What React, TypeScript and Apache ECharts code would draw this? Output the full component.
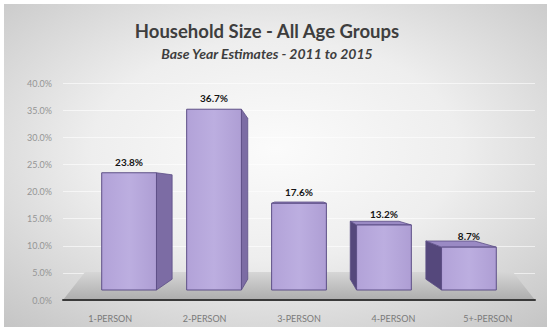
import React, { useEffect, useRef } from "react";
import * as echarts from "echarts";

const categories = ["1-PERSON", "2-PERSON", "3-PERSON", "4-PERSON", "5+-PERSON"];
const values = [23.8, 36.7, 17.6, 13.2, 8.7];
const yMin = 0;
const yMax = 40;
const yInterval = 5;
const titleText = "Household Size - All Age Groups";
const subtitleText = "Base Year Estimates - 2011 to 2015";

export default function App() {
  const ref = useRef<HTMLDivElement>(null);
  useEffect(() => {
    if (!ref.current) return;
    const chart = echarts.init(ref.current, undefined, { renderer: "svg" });

    const renderFloor = (params: any, api: any) => {
      const cs = params.coordSys;
      const baseY = api.coord([0, 0])[1];
      return {
        type: "polygon",
        shape: {
          points: [
            [cs.x, baseY],
            [cs.x + cs.width, baseY],
            [cs.x + cs.width - 22, baseY - 28],
            [cs.x + 22, baseY - 28],
          ],
        },
        style: {
          fill: new echarts.graphic.LinearGradient(0, 0, 0, 1, [
            { offset: 0, color: "#d6d6d6" },
            { offset: 1, color: "#adadad" },
          ]),
        },
        silent: true,
      };
    };

    const renderBar = (params: any, api: any) => {
      const i = api.value(0);
      const v = api.value(1);
      const cs = params.coordSys;
      const C = cs.x + cs.width / 2;
      const p0 = api.coord([i, 0]);
      const cx = p0[0];
      const baseY = p0[1];
      const vy = api.coord([i, 20])[1];
      const band = api.size([1, 0])[0];
      const fx = C + (cx - C) * 0.9;
      const hw = band * 0.29;
      const fb = baseY - 10;
      const h = api.size([0, v])[1] * 0.908;
      const ft = fb - h;
      const s = 0.89;
      const bx = (x: number) => C + (x - C) * s;
      const by = (y: number) => vy + (y - vy) * s;
      const L = fx - hw;
      const R = fx + hw;
      const stroke = "#5d4f86";
      const children: any[] = [];
      if (R < C - 1) {
        children.push({
          type: "polygon",
          shape: { points: [[R, ft], [bx(R), by(ft)], [bx(R), by(fb)], [R, fb]] },
          style: { fill: "#7c6ca4", stroke, lineWidth: 0.8 },
        });
      }
      if (L > C + 1) {
        children.push({
          type: "polygon",
          shape: { points: [[L, ft], [bx(L), by(ft)], [bx(L), by(fb)], [L, fb]] },
          style: { fill: "#55487c", stroke, lineWidth: 0.8 },
        });
      }
      if (ft > vy) {
        children.push({
          type: "polygon",
          shape: { points: [[L, ft], [bx(L), by(ft)], [bx(R), by(ft)], [R, ft]] },
          style: { fill: "#9a8ac4", stroke, lineWidth: 0.8 },
        });
      }
      children.push({
        type: "rect",
        shape: { x: L, y: ft, width: R - L, height: fb - ft },
        style: {
          fill: new echarts.graphic.LinearGradient(0, 0, 1, 0, [
            { offset: 0, color: "#b2a2d8" },
            { offset: 0.5, color: "#bcaee0" },
            { offset: 1, color: "#ae9ed4" },
          ]),
          stroke,
          lineWidth: 1,
        },
      });
      children.push({
        type: "text",
        style: {
          text: v.toFixed(1) + "%",
          x: fx,
          y: ft - 6,
          align: "center",
          verticalAlign: "bottom",
          font: "bold 10px Lato",
          fill: "#151515",
        },
      });
      return { type: "group", children };
    };

    chart.setOption({
      animation: false,
      backgroundColor: "#ffffff",
      graphic: [
        {
          type: "rect",
          z: -10,
          silent: true,
          shape: { x: 4, y: 4, width: 543, height: 323 },
          style: {
            fill: new echarts.graphic.RadialGradient(0.5, 0.45, 0.75, [
              { offset: 0, color: "#fbfbfb" },
              { offset: 0.45, color: "#eeeeee" },
              { offset: 1, color: "#c4c4c4" },
            ]),
          },
        },
        {
          type: "text",
          x: 267,
          y: 31,
          style: {
            text: titleText,
            align: "center",
            verticalAlign: "middle",
            font: "bold 18.5px Lato",
            fill: "#3e3e3e",
          },
        },
        {
          type: "text",
          x: 267,
          y: 53,
          style: {
            text: subtitleText,
            align: "center",
            verticalAlign: "middle",
            font: "italic bold 14px Lato",
            fill: "#3e3e3e",
          },
        },
      ],
      grid: { left: 63, right: 16, top: 83, bottom: 31 },
      xAxis: {
        type: "category",
        data: categories,
        z: 10,
        axisLine: { lineStyle: { color: "#3a3a3a", width: 2 } },
        axisTick: { show: false },
        axisLabel: { color: "#7a7a7a", fontSize: 9, fontFamily: "Lato", margin: 14 },
      },
      yAxis: {
        type: "value",
        min: yMin,
        max: yMax,
        interval: yInterval,
        axisLine: { show: false },
        axisTick: { show: false },
        splitLine: { lineStyle: { color: "rgba(255,255,255,0.6)", width: 1 } },
        axisLabel: {
          color: "#959595",
          fontSize: 9,
          fontFamily: "Lato",
          margin: 11,
          formatter: (val: number) => val.toFixed(1) + "%",
        },
      },
      series: [
        {
          type: "custom",
          name: "floor",
          z: 1,
          silent: true,
          renderItem: renderFloor,
          data: [[0, 0]],
          encode: { x: 0, y: 1 },
        },
        {
          type: "custom",
          name: "Household Size",
          z: 5,
          renderItem: renderBar,
          data: values.map((v, i) => [i, v]),
          encode: { x: 0, y: 1 },
        },
      ],
    });
    return () => chart.dispose();
  }, []);
  return (
    <div
      ref={ref}
      style={{ position: "absolute", left: 0, top: 0, width: 551, height: 331 }}
    />
  );
}
